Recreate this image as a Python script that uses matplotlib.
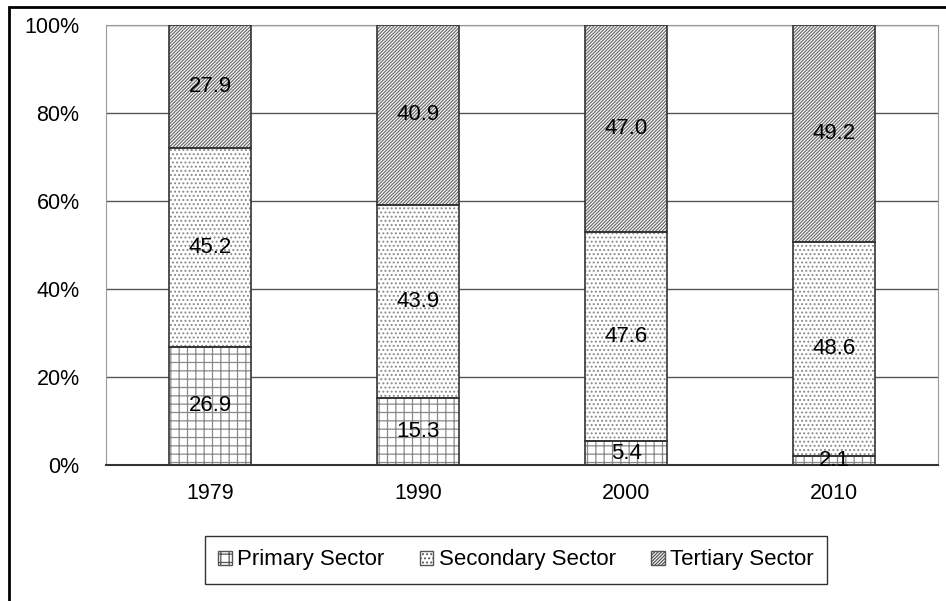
import matplotlib

matplotlib.use("Agg")
import matplotlib.pyplot as plt
from matplotlib.patches import Patch, Rectangle
import numpy as np

plt.rcParams["font.family"] = ["Liberation Sans", "DejaVu Sans"]
plt.rcParams["hatch.linewidth"] = 0.9

years = ["1979", "1990", "2000", "2010"]
primary = [26.9, 15.3, 5.4, 2.1]
secondary = [45.2, 43.9, 47.6, 48.6]
tertiary = [27.9, 40.9, 47.0, 49.2]

series = [
    ("Primary Sector", primary, "++", "#8a8a8a"),
    ("Secondary Sector", secondary, "....", "#8a8a8a"),
    ("Tertiary Sector", tertiary, "//////////", "#6e6e6e"),
]

fig = plt.figure(figsize=(9.46, 6.01), dpi=100)
ax = fig.add_axes([106 / 946, 1 - 465 / 601, 832 / 946, 440 / 601])

x = np.arange(len(years))
totals = np.sum([s[1] for s in series], axis=0)
bottom = np.zeros(len(years))
width = 0.395
handles = []
for name, vals, hatch, hc in series:
    pct = np.array(vals) / totals * 100
    ax.bar(x, pct, width, bottom=bottom, color="white", edgecolor=hc,
           hatch=hatch, linewidth=0, zorder=2)
    ax.bar(x, pct, width, bottom=bottom, fill=False, edgecolor="#333333",
           linewidth=1.2, zorder=3)
    for xi, b, p, v in zip(x, bottom, pct, vals):
        ax.text(xi, b + p / 2, f"{v:.1f}", ha="center", va="center",
                fontsize=16, color="black", zorder=4)
    handles.append(Patch(facecolor="white", edgecolor="#555555", hatch=hatch,
                         linewidth=1.0, label=name))
    bottom = bottom + pct

ax.set_xlim(-0.5, len(years) - 0.5)
ax.set_ylim(0, 100)
ax.set_yticks(range(0, 101, 20))
ax.set_yticklabels([f"{v}%" for v in range(0, 101, 20)])
ax.set_xticks(x)
ax.set_xticklabels(years)
ax.tick_params(axis="both", labelsize=15.5, length=0)
ax.tick_params(axis="x", pad=13)
ax.tick_params(axis="y", pad=19)
ax.yaxis.grid(True, color="#555555", linewidth=1.0, zorder=0)
ax.set_axisbelow(True)
for side in ["top", "right", "left"]:
    ax.spines[side].set_color("#999999")
ax.spines["bottom"].set_color("#333333")
ax.spines["bottom"].set_linewidth(1.5)

leg = fig.legend(handles=handles, loc="center", bbox_to_anchor=(516 / 946, 1 - 560 / 601),
                 ncol=3, fontsize=16, frameon=True, fancybox=False,
                 handlelength=0.6, handleheight=0.6, handletextpad=0.25,
                 columnspacing=1.6, borderpad=0.6, borderaxespad=0)
leg.get_frame().set_edgecolor("black")
leg.get_frame().set_linewidth(1.0)

fig.add_artist(Rectangle((9 / 946, -0.5), 2, 1.5 - 7 / 601, transform=fig.transFigure,
                         fill=False, edgecolor="black", linewidth=2, clip_on=False))

fig.savefig("out.png", dpi=100)
